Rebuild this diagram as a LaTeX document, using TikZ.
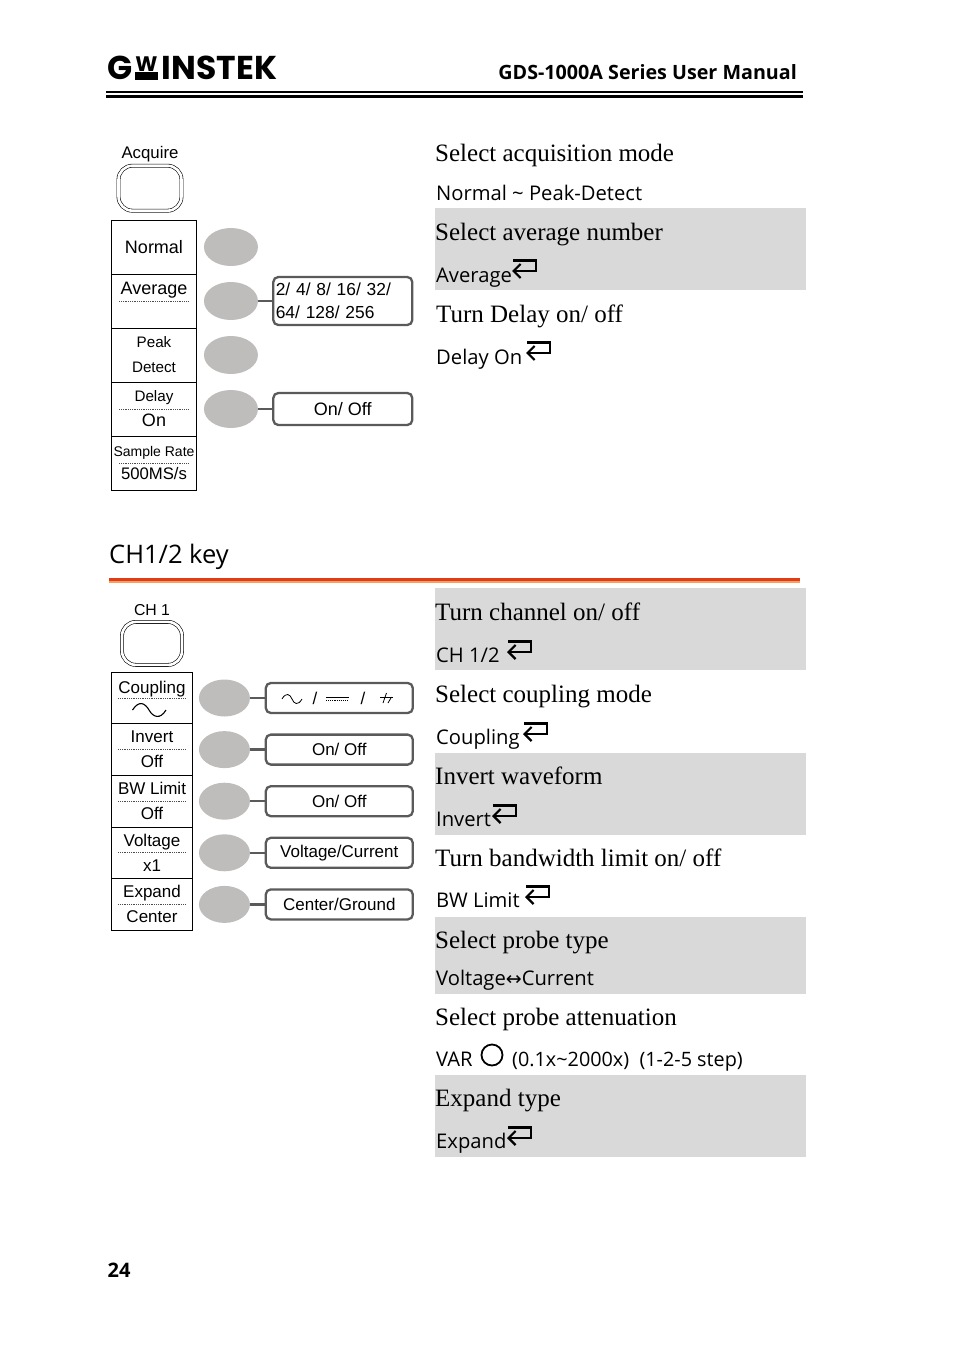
\documentclass[tikz,border=0pt]{standalone}
\usepackage{fontspec}
\setmainfont{Liberation Sans}
\newfontfamily\descserif{Liberation Serif}
\newfontfamily\descsans{Open Sans}
\newfontfamily\logofont{Poppins}
\newfontfamily\arrowfont{DejaVu Sans}
\usetikzlibrary{positioning, calc, arrows.meta, backgrounds, shapes.geometric}
\definecolor{softkey}{HTML}{BEBDBB}
\definecolor{optline}{HTML}{5A5A5A}
\definecolor{band}{HTML}{D9D9D9}
\definecolor{rulered}{HTML}{E03C1A}
\definecolor{ruleorange}{HTML}{F4A060}
\newcommand{\px}[2]{\fontsize{#1}{#2}\selectfont}

\begin{document}
\begin{tikzpicture}[
    x=1pt, y=-1pt,
    >=Stealth,
    font=\px{17}{25},
    menubig/.style={
        draw,
        line width=0.9pt,
        align=center,
        inner sep=0pt,
        outer sep=0pt,
        minimum width=85.5pt,
        minimum height=54pt
    },
    menusmall/.style={menubig, minimum width=81.5pt, minimum height=51.6pt},
    softbig/.style={ellipse, fill=softkey, inner sep=0pt, minimum width=54pt, minimum height=38pt},
    softsmall/.style={softbig, minimum width=51pt, minimum height=37pt},
    optbig/.style={
        draw=optline,
        fill=white,
        line width=2.3pt,
        rounded corners=5pt,
        inner sep=0pt,
        align=center,
        minimum width=139pt,
        minimum height=32pt
    },
    optsmall/.style={optbig, minimum width=147pt, minimum height=30pt},
    keybutton/.style={
        draw,
        double,
        line width=0.6pt,
        double distance=2.6pt,
        rounded corners=14pt,
        inner sep=0pt
    },
    link/.style={draw=optline, line width=2.3pt},
    divider/.style={densely dotted, line width=0.8pt, draw=black!70},
    descs/.style={anchor=base west, inner sep=0pt, font=\descserif\px{25}{30}},
    descn/.style={anchor=base west, inner sep=0pt, yshift=1pt, font=\descsans\px{20.2}{26}},
    returnkey/.pic={
        \draw[line width=2.2pt, {Straight Barb[length=7pt,width=14pt]}-]
            (0,11) -- (24,11) -- (24,0.5) -- (1,0.5);
    }
]

% page head
\node[inner sep=0pt, font=\logofont\bfseries\px{33}{33}] (logoG) at (120.5,68) {G};
\node[inner sep=0pt, font=\logofont\bfseries\px{21}{21}, right=2pt of logoG, yshift=3.5pt] (logoW) {W};
\node[inner sep=0pt, font=\logofont\bfseries\px{33}{33}, right=4pt of logoW, yshift=-3.5pt] (logoI) {INSTEK};
\fill (logoW.south west) rectangle (logoW.south east |- 0,80);
\node[anchor=east, inner sep=0pt, font=\descsans\bfseries\px{19.7}{26}] (title) at (797,72) {GDS-1000A Series User Manual};
\fill (106,90.5) rectangle (803,93);
\fill (106,94.5) rectangle (803,98);

% shaded rows
\begin{scope}[on background layer]
    \foreach \ya/\yb in {208/290, 588/670, 753/835, 917/994, 1075/1157}
        \fill[band] (435,\ya) rectangle (806,\yb);
\end{scope}

% acquire menu
\node[menubig, font=\px{18}{25}] (normal) at (154,247) {Normal};
\node[menubig, below=0pt of normal, font=\px{18}{25}] (average) {Average\\\mbox{}};
\node[menubig, below=0pt of average, font=\px{15.2}{25}] (peak) {Peak\\Detect};
\node[menubig, below=0pt of peak, font=\px{15.2}{25}] (delay) {Delay\\{\px{18}{25}On}};
\node[menubig, below=0pt of delay, font=\px{14}{23}] (rate) {Sample Rate\\{\px{16.7}{23}500MS/s}};
\node[keybutton, minimum width=63pt, minimum height=45pt, above=9pt of normal, xshift=-4pt] (acquire) {};
\node[inner sep=0pt, above=3pt of acquire, font=\px{16.8}{20}] (acquirelabel) {Acquire};

\node[softbig, right=7pt of normal] (s1) {};
\node[softbig, right=7pt of average] (s2) {};
\node[softbig, right=7pt of peak] (s3) {};
\node[softbig, right=7pt of delay] (s4) {};

\node[optbig, minimum height=48pt, right=14pt of s2, text width=134pt, align=left, font=\px{17.4}{22.5}] (avgopt) {2/ 4/ 8/ 16/ 32/\\64/ 128/ 256};
\node[optbig, right=14pt of s4, font=\px{18}{25}] (delayopt) {On/ Off};

\draw[link] (s2) -- (avgopt);
\draw[link] (s4) -- (delayopt);

\foreach \m in {average, delay, rate}
    \draw[divider] ($(\m.west)+(8,0)$) -- ($(\m.east)+(-8,0)$);

% section title
\node[anchor=base west, inner sep=0pt, font=\descsans\px{25.5}{30}] (sectitle) at (109,563) {CH1/2 key};
\fill[ruleorange] (109,580) rectangle (800,582.7);
\fill[rulered] (109,578) rectangle (800,580.7);

% channel menu
\node[menusmall] (coupling) at (152,698) {Coupling\\[-3pt]\mbox{}};
\node[menusmall, below=0pt of coupling] (invert) {Invert\\Off};
\node[menusmall, below=0pt of invert] (bwlimit) {BW Limit\\Off};
\node[menusmall, below=0pt of bwlimit] (voltage) {Voltage\\x1};
\node[menusmall, below=0pt of voltage] (expand) {Expand\\Center};
\node[keybutton, minimum width=60pt, minimum height=43pt, above=7pt of coupling] (chone) {};
\node[inner sep=0pt, above=6pt of chone, font=\px{15.8}{20}] (chonelabel) {CH 1};

\draw[line width=1.1pt] (132.5,710) .. controls (139,700) and (145,703) .. (149,710) .. controls (153,717) and (160,720) .. (166,710);

\foreach \m in {coupling, invert, bwlimit, voltage, expand}
    \draw[divider] ($(\m.west)+(7,0)$) -- ($(\m.east)+(-7,0)$);

\node[softsmall, right=6pt of coupling] (k1) {};
\node[softsmall, right=6pt of invert] (k2) {};
\node[softsmall, right=6pt of bwlimit] (k3) {};
\node[softsmall, right=6pt of voltage] (k4) {};
\node[softsmall, right=6pt of expand] (k5) {};

\node[optsmall, right=14.5pt of k1] (couplingopt) {};
\node[optsmall, right=14.5pt of k2] (invertopt) {On/ Off};
\node[optsmall, right=14.5pt of k3] (bwopt) {On/ Off};
\node[optsmall, right=14.5pt of k4] (voltopt) {Voltage/Current};
\node[optsmall, right=14.5pt of k5] (expandopt) {Center/Ground};

\foreach \a/\b in {k1/couplingopt, k2/invertopt, k3/bwopt, k4/voltopt, k5/expandopt}
    \draw[link] (\a) -- (\b);

% coupling symbols
\draw[line width=0.8pt] (282,699) .. controls (286,692) and (290,694) .. (292,699) .. controls (294,704) and (298,706) .. (302,699);
\node[inner sep=0pt] (slasha) at (315,698) {/};
\draw[line width=1.1pt] (326,697.5) -- (349,697.5);
\draw[line width=1.1pt, densely dotted] (326,700.5) -- (349,700.5);
\node[inner sep=0pt] (slashb) at (363,698) {/};
\draw[line width=0.8pt] (380,697) -- (393,697);
\draw[line width=0.8pt] (386.5,693) -- (383,703) (391.5,697) -- (388,703);

% descriptions
\node[descs] (d1) at (435,161) {Select acquisition mode};
\node[descn] (d2) at (436,201) {Normal \textasciitilde{} Peak-Detect};
\node[descs] (d3) at (435,240) {Select average number};
\node[descn] (d4) at (436,283) {Average};
\node[descs] (d5) at (436,322) {Turn Delay on/ off};
\node[descn] (d6) at (436,365) {Delay On};
\node[descs] (d7) at (435,620) {Turn channel on/ off};
\node[descn] (d8) at (436,663) {CH 1/2};
\node[descs] (d9) at (435,702) {Select coupling mode};
\node[descn] (d10) at (436,745) {Coupling};
\node[descs] (d11) at (435,784) {Invert waveform};
\node[descn] (d12) at (436,827) {Invert};
\node[descs] (d13) at (435,866) {Turn bandwidth limit on/ off};
\node[descn] (d14) at (436,908) {BW Limit};
\node[descs] (d15) at (435,948) {Select probe type};
\node[descn] (d16) at (436,986) {Voltage{\arrowfont\px{19}{26}↔}Current};
\node[descs] (d17) at (435,1025) {Select probe attenuation};
\node[descn] (d18) at (436,1067) {VAR};
\node[descn, font=\descsans\px{19.8}{26}] (d19) at (512,1067) {(0.1x\textasciitilde{}2000x)\ \ (1-2-5 step)};
\node[descs] (d20) at (435,1106) {Expand type};
\node[descn] (d21) at (436,1149) {Expand};

% return keys
\foreach \x/\y in {512/260, 526/342, 507/641, 523/723, 492/805, 525/886, 507/1127}
    \pic at (\x,\y) {returnkey};
\draw[line width=1.8pt] (492,1055) circle (10.5pt);

% page number
\node[inner sep=0pt, font=\descsans\bfseries\px{20}{24}] (pageno) at (119,1270) {24};

\useasboundingbox (0,0) rectangle (954,1349);
\end{tikzpicture}
\end{document}
